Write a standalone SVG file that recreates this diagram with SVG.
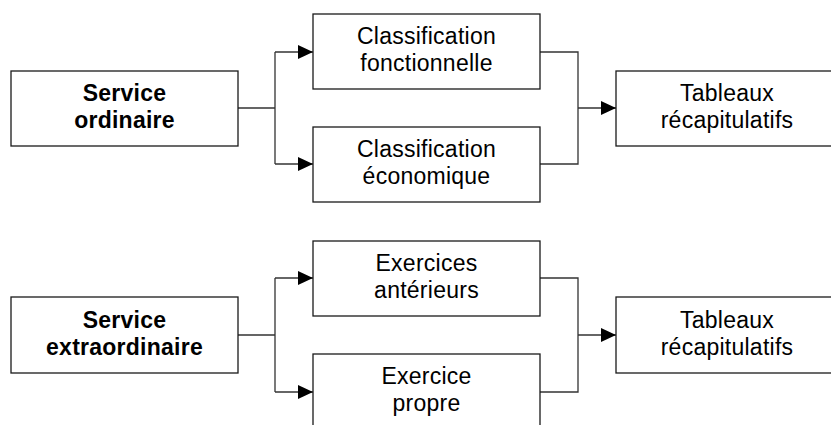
<svg xmlns="http://www.w3.org/2000/svg" width="831" height="425" viewBox="0 0 831 425">
<style>
.box{fill:#fff;stroke:#1a1a1a;stroke-width:1.3}
.t{font-family:"Liberation Sans",Arial,sans-serif;font-size:23px;letter-spacing:0.25px;fill:#000;text-anchor:middle}
.b{font-weight:bold}
.c{fill:none;stroke:#333;stroke-width:1.3}
</style>
<defs>
<marker id="ah" markerWidth="15" markerHeight="14" refX="15" refY="7" orient="auto" markerUnits="userSpaceOnUse">
<path d="M0,0 L15,7 L0,14 Z" fill="#000"/>
</marker>
</defs>
<rect width="831" height="425" fill="#fff"/>
<g id="connectors">
<path class="c" d="M238,108 H275 M275,52 V164"/>
<path class="c" d="M275,52 H313" marker-end="url(#ah)"/>
<path class="c" d="M275,164 H313" marker-end="url(#ah)"/>
<path class="c" d="M540,52 H578 V164 H540"/>
<path class="c" d="M578,108 H616" marker-end="url(#ah)"/>
<path class="c" d="M238,335 H275 M275,278 V392"/>
<path class="c" d="M275,278 H313" marker-end="url(#ah)"/>
<path class="c" d="M275,392 H313" marker-end="url(#ah)"/>
<path class="c" d="M540,278 H578 V392 H540"/>
<path class="c" d="M578,335 H616" marker-end="url(#ah)"/>
</g>
<g id="service-ordinaire">
<rect class="box" x="11" y="71" width="227" height="75"/>
<text class="t b" x="124.5" y="101">Service</text>
<text class="t b" x="124.5" y="128">ordinaire</text>
</g>
<g id="classification-fonctionnelle">
<rect class="box" x="313" y="14" width="227" height="75"/>
<text class="t" x="426.5" y="44">Classification</text>
<text class="t" x="426.5" y="71">fonctionnelle</text>
</g>
<g id="classification-economique">
<rect class="box" x="313" y="127" width="227" height="75"/>
<text class="t" x="426.5" y="157">Classification</text>
<text class="t" x="426.5" y="184">économique</text>
</g>
<g id="tableaux-1">
<rect class="box" x="616" y="71" width="227" height="75"/>
<text class="t" x="727" y="101">Tableaux</text>
<text class="t" x="727" y="128">récapitulatifs</text>
</g>
<g id="service-extraordinaire">
<rect class="box" x="11" y="297" width="227" height="76"/>
<text class="t b" x="124.5" y="327.5">Service</text>
<text class="t b" x="124.5" y="354.5">extraordinaire</text>
</g>
<g id="exercices-anterieurs">
<rect class="box" x="313" y="241" width="227" height="75"/>
<text class="t" x="426.5" y="271">Exercices</text>
<text class="t" x="426.5" y="298">antérieurs</text>
</g>
<g id="exercice-propre">
<rect class="box" x="313" y="354" width="227" height="75"/>
<text class="t" x="426.5" y="384">Exercice</text>
<text class="t" x="426.5" y="411">propre</text>
</g>
<g id="tableaux-2">
<rect class="box" x="616" y="297" width="227" height="76"/>
<text class="t" x="727" y="327.5">Tableaux</text>
<text class="t" x="727" y="354.5">récapitulatifs</text>
</g>
</svg>
